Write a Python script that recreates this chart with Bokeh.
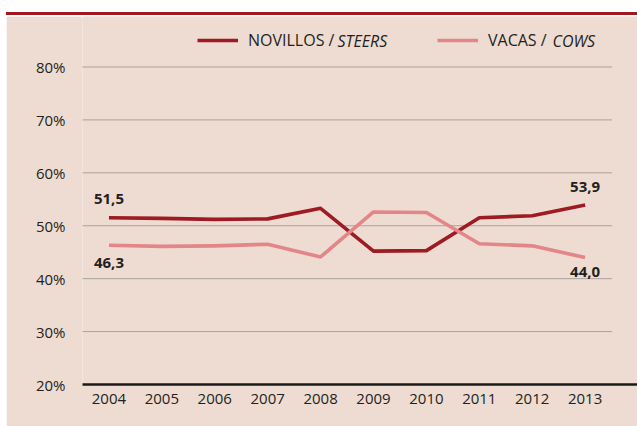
from bokeh.plotting import figure
from bokeh.models import Legend, LegendItem, Label, Div
from bokeh.layouts import column
from bokeh.embed import file_html
from bokeh.resources import INLINE
from bokeh.core.properties import value

# ---- data ----
years = [2004, 2005, 2006, 2007, 2008, 2009, 2010, 2011, 2012, 2013]
steers = [51.5, 51.4, 51.2, 51.3, 53.3, 45.2, 45.3, 51.5, 51.9, 53.9]
cows = [46.3, 46.1, 46.2, 46.5, 44.1, 52.6, 52.5, 46.6, 46.2, 44.0]
y_ticks = [20, 30, 40, 50, 60, 70, 80]
y_tick_labels = ["20%", "30%", "40%", "50%", "60%", "70%", "80%"]
series_es = ["NOVILLOS /", "VACAS /"]
series_en = ["STEERS", "COWS"]

# ---- style ----
BG = "#EEDCD2"
STEER_C = "#9E1B24"
COW_C = "#E3868A"
TOP_RED = "#A3161E"
TXT = "#231F20"
FONT = "Open Sans"

def fmt(v):
    return f"{v:.1f}".replace(".", ",")

top = Div(text="", width=631, height=3, margin=(12, 0, 1, 6),
          styles={"background-color": TOP_RED})

p = figure(width=631, height=410, output_backend="svg", toolbar_location=None,
           x_range=(years[0] - 0.5, years[-1] + 0.99),
           y_range=(y_ticks[0], 89.54),
           min_border_left=76, min_border_right=0, min_border_top=0, min_border_bottom=42,
           margin=(0, 0, 0, 6))
p.background_fill_color = BG
p.border_fill_color = BG
p.outline_line_color = None
p.xgrid.grid_line_color = None
p.ygrid.grid_line_color = None

# dotted horizontal grid lines
gy = [t for t in y_ticks if t > y_ticks[0]]
p.segment(x0=years[0] - 0.5, y0=gy, x1=years[-1] + 0.5, y1=gy,
          line_color="#666666", line_dash="1 1", line_width=1)

r_s = p.line(years, steers, line_color=STEER_C, line_width=3.6, line_join="round")
r_c = p.line(years, cows, line_color=COW_C, line_width=3.6, line_join="round")

# value labels
lab_kw = dict(text_font=value(FONT), text_font_style="bold", text_font_size="15px",
              text_align="center", text_baseline="middle", text_color=TXT)
p.text(x=[years[0]], y=[steers[0]], text=[fmt(steers[0])], y_offset=-18.5, **lab_kw)
p.text(x=[years[0]], y=[cows[0]], text=[fmt(cows[0])], y_offset=18, **lab_kw)
p.text(x=[years[-1]], y=[steers[-1]], text=[fmt(steers[-1])], y_offset=-18.5, **lab_kw)
p.text(x=[years[-1]], y=[cows[-1]], text=[fmt(cows[-1])], y_offset=15, **lab_kw)

# axes
xa = p.xaxis[0]
xa.ticker = years
xa.axis_line_color = "#1A1A1A"
xa.axis_line_width = 2.5
xa.major_tick_line_color = None
xa.minor_tick_line_color = None
xa.major_tick_out = 0
xa.major_tick_in = 0
xa.major_label_standoff = 9
xa.major_label_text_font = FONT
xa.major_label_text_font_size = "15px"
xa.major_label_text_color = TXT

ya = p.yaxis[0]
ya.ticker = y_ticks
ya.major_label_overrides = dict(zip(y_ticks, y_tick_labels))
ya.axis_line_color = None
ya.major_tick_line_color = None
ya.minor_tick_line_color = None
ya.major_tick_out = 0
ya.major_tick_in = 0
ya.major_label_standoff = 17
ya.major_label_text_font = FONT
ya.major_label_text_font_size = "15px"
ya.major_label_text_color = TXT

# legends
leg_kw = dict(background_fill_alpha=0, border_line_color=None, padding=0, margin=0,
              glyph_width=41, glyph_height=20, label_height=20, label_standoff=10,
              label_text_font=FONT, label_text_font_size="16px", label_text_color=TXT)
leg1 = Legend(items=[LegendItem(label=series_es[0], renderers=[r_s])],
              location=(115, 333), **leg_kw)
leg2 = Legend(items=[LegendItem(label=series_es[1], renderers=[r_c])],
              location=(355, 333), **leg_kw)
p.add_layout(leg1)
p.add_layout(leg2)

it_kw = dict(x_units="screen", y_units="screen", text_font=FONT, text_font_style="italic",
             text_font_size="16px", text_color=TXT, text_baseline="middle")
p.add_layout(Label(x=255, y=344, text=series_en[0], **it_kw))
p.add_layout(Label(x=470, y=344, text=series_en[1], **it_kw))

layout = column(top, p, spacing=0)
open("out.html", "w").write(file_html(layout, INLINE))
